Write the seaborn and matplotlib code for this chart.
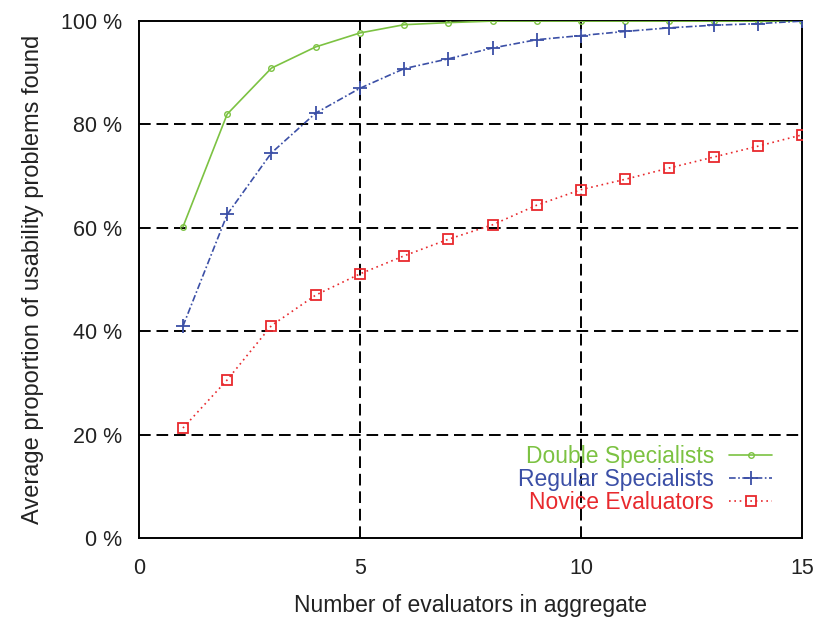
import numpy as np
import pandas as pd
import matplotlib
matplotlib.use("Agg")
import matplotlib.pyplot as plt
import seaborn as sns

evaluators = list(range(1, 16))
double_specialists = [60.2, 82.0, 90.9, 95.0, 97.7, 99.3, 99.7, 100, 100, 100, 100, 100, 100, 100, 100]
regular_specialists = [41.0, 62.6, 74.5, 82.2, 87.0, 90.8, 92.7, 94.8, 96.4, 97.2, 98.0, 98.7, 99.2, 99.5, 100]
novice_evaluators = [21.3, 30.6, 41.1, 47.0, 51.1, 54.6, 57.8, 60.6, 64.4, 67.4, 69.4, 71.6, 73.7, 75.8, 78.0]
series_names = ["Double Specialists", "Regular Specialists", "Novice Evaluators"]
y_ticks = [0, 20, 40, 60, 80, 100]
x_ticks = [0, 5, 10, 15]

series_values = [double_specialists, regular_specialists, novice_evaluators]

colors = ["#7cc242", "#3b4fa6", "#e8292d"]
styles = [
    dict(ls="-", marker="o", markersize=4, markerfacecolor="none", markeredgewidth=1.0),
    dict(dashes=(4, 1.5, 1, 1.5), marker="+", markersize=10, markeredgewidth=1.3),
    dict(dashes=(1, 2.2), marker="s", markersize=7, markerfacecolor="none", markeredgewidth=1.3),
]

sns.set_theme(style="white")
plt.rcParams["font.family"] = ["Liberation Sans", "DejaVu Sans"]

fig = plt.figure(figsize=(8.16, 6.2), dpi=100)
ax = fig.add_axes([0.170, 0.132, 0.813, 0.834])

# grid
for v in [20, 40, 60, 80]:
    ax.axhline(v, color="black", lw=1.4, dashes=(6, 3), zorder=1)
for v in [5, 10]:
    ax.axvline(v, color="black", lw=1.4, dashes=(6, 3), zorder=1)

for name, vals, col, st in zip(series_names, series_values, colors, styles):
    d = pd.DataFrame({"x": evaluators, "y": vals})
    sns.lineplot(data=d, x="x", y="y", color=col, ax=ax, lw=1.2, label=name,
                 markeredgecolor=col, zorder=3, **st)

ax.set_xlim(0, 15)
ax.set_ylim(0, 100)
ax.set_xticks(x_ticks)
ax.set_yticks(y_ticks)
ax.set_yticklabels([f"{t} %" for t in y_ticks])
ax.tick_params(direction="in", length=5, color="black", labelsize=15.5, labelcolor="#222222")
ax.tick_params(axis="x", pad=14)
ax.tick_params(axis="y", pad=12)
ax.set_xlabel("Number of evaluators in aggregate", fontsize=16.5, color="#222222", labelpad=11)
ax.set_ylabel("Average proportion of usability problems found", fontsize=17, color="#222222", labelpad=12)
for s in ax.spines.values():
    s.set_color("black")
    s.set_linewidth(1.4)

handles, labels = ax.get_legend_handles_labels()
leg = ax.legend(handles, labels, loc="lower right", bbox_to_anchor=(0.955, 0.046),
                frameon=False, markerfirst=False, fontsize=16.5, handlelength=1.9,
                handletextpad=0.65, labelspacing=0.0, borderpad=0.0, borderaxespad=0.0)
for txt, col in zip(leg.get_texts(), colors):
    txt.set_color(col)

fig.savefig("out.png", dpi=100)
